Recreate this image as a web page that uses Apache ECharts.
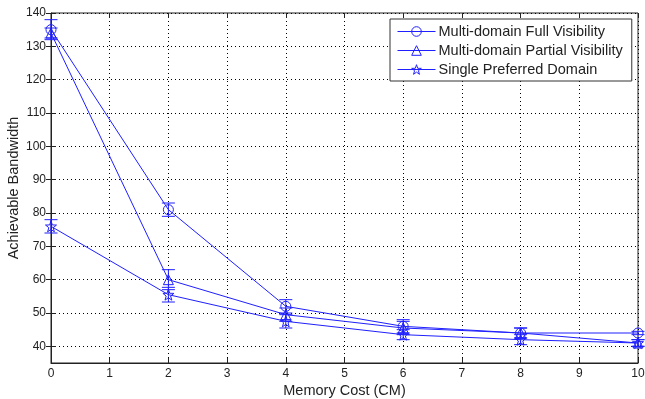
<!DOCTYPE html>
<html>
<head>
<meta charset="utf-8">
<script src="https://cdn.jsdelivr.net/npm/echarts@6/dist/echarts.min.js"></script>
<style>
  html, body { margin: 0; padding: 0; background: #fff; }
  #chart { width: 645px; height: 399px; }
</style>
</head>
<body>
<div id="chart"></div>
<script>
// memory cost values on the x axis
const memoryCost = [0, 2, 4, 6, 8, 10];
const yTicks = [40, 50, 60, 70, 80, 90, 100, 110, 120, 130, 140];

const seriesNames = [
    'Multi-domain Full Visibility',
    'Multi-domain Partial Visibility',
    'Single Preferred Domain'
];

// means
const fullVisibility = [135, 81, 52, 46, 44, 44];
const partialVisibility = [134, 60, 49.5, 45.5, 44, 41];
const singlePreferred = [76, 55.5, 47.5, 43.5, 42, 41];

// error (half length of bar)
const fullErr = [3, 2, 2, 2, 1.5, 0.5];
const partialErr = [1.5, 3, 2, 2, 1.5, 1];
const singleErr = [2, 2.2, 2, 1.5, 1.5, 1];

const BLUE = '#1f1fff';
const FONT = 'Liberation Sans, Arial, sans-serif';

const STAR = 'path://M0,-10 L2.35,-3.24 L9.51,-3.09 L3.8,1.24 L5.88,8.09 L0,4 L-5.88,8.09 L-3.8,1.24 L-9.51,-3.09 L-2.35,-3.24 Z';
const symbols = ['circle', 'triangle', STAR];

function pairs(vals) {
    return memoryCost.map((x, i) => [x, vals[i]]);
}
function errData(vals, errs) {
    return memoryCost.map((x, i) => [x, vals[i] - errs[i], vals[i] + errs[i]]);
}

// custom error bar
function renderErr(params, api) {
    const lo = api.coord([api.value(0), api.value(1)]);
    const hi = api.coord([api.value(0), api.value(2)]);
    const w = 6.5;
    const style = { stroke: BLUE, lineWidth: 1, fill: null };
    return {
        type: 'group',
        children: [
            { type: 'line', shape: { x1: lo[0], y1: lo[1], x2: hi[0], y2: hi[1] }, style: style },
            { type: 'line', shape: { x1: lo[0] - w, y1: lo[1], x2: lo[0] + w, y2: lo[1] }, style: style },
            { type: 'line', shape: { x1: hi[0] - w, y1: hi[1], x2: hi[0] + w, y2: hi[1] }, style: style }
        ]
    };
}

const means = [fullVisibility, partialVisibility, singlePreferred];
const errs = [fullErr, partialErr, singleErr];

const series = [];
means.forEach((vals, k) => {
    series.push({
        name: seriesNames[k],
        type: 'line',
        data: pairs(vals),
        symbol: symbols[k],
        symbolSize: k === 2 ? 11 : 10,
        showAllSymbol: true,
        lineStyle: { color: BLUE, width: 1 },
        itemStyle: { color: 'transparent', borderColor: BLUE, borderWidth: 1 },
        emphasis: { disabled: true },
        z: 3
    });
});
means.forEach((vals, k) => {
    series.push({
        type: 'custom',
        name: 'err' + k,
        renderItem: renderErr,
        data: errData(vals, errs[k]),
        encode: { x: 0, y: [1, 2] },
        silent: true,
        z: 2
    });
});

const chart = echarts.init(document.getElementById('chart'), null, { renderer: 'canvas' });

const tickStyle = { show: true, inside: true, length: 5, lineStyle: { color: '#222' } };

chart.setOption({
    animation: false,
    backgroundColor: '#fff',
    textStyle: { fontFamily: FONT },
    grid: {
        left: 51, right: 7, top: 13, bottom: 36,
        outerBoundsMode: 'none',
        containLabel: false,
        show: true, borderColor: '#222', borderWidth: 1
    },
    legend: {
        data: seriesNames,
        orient: 'vertical',
        left: 390,
        top: 19,
        padding: [5, 9, 4, 7],
        itemWidth: 38,
        itemHeight: 12,
        itemGap: 4,
        backgroundColor: '#fff',
        borderColor: '#333',
        borderWidth: 1,
        itemStyle: { color: 'transparent', borderColor: BLUE, borderWidth: 1 },
        lineStyle: { color: BLUE, width: 1 },
        textStyle: { fontSize: 14.5, lineHeight: 15, color: '#222', fontFamily: FONT, padding: [0, 0, 0, -2] }
    },
    xAxis: [{
        type: 'value',
        min: 0, max: 10, interval: 1,
        name: 'Memory Cost (CM)',
        nameLocation: 'middle',
        nameGap: 20,
        nameMoveOverlap: false,
        nameTextStyle: { fontSize: 14.5, color: '#222' },
        axisLine: { lineStyle: { color: '#222' } },
        axisTick: tickStyle,
        axisLabel: { fontSize: 12, color: '#222', margin: 5 },
        splitLine: { show: true, lineStyle: { color: '#000', type: [1, 3] } }
    }, {
        type: 'value', position: 'top',
        min: 0, max: 10, interval: 1,
        axisLine: { show: false },
        axisTick: tickStyle,
        axisLabel: { show: false },
        splitLine: { show: false }
    }],
    yAxis: [{
        type: 'value',
        min: 35, max: 140,
        name: 'Achievable Bandwidth',
        nameLocation: 'middle',
        nameGap: 30,
        nameMoveOverlap: false,
        nameTextStyle: { fontSize: 14.5, color: '#222' },
        axisLine: { show: true, lineStyle: { color: '#222' } },
        axisTick: Object.assign({ customValues: yTicks }, tickStyle),
        axisLabel: { fontSize: 12, color: '#222', margin: 5, customValues: yTicks },
        splitLine: { show: true, lineStyle: { color: '#000', type: [1, 3] } }
    }, {
        type: 'value', position: 'right',
        min: 35, max: 140,
        axisLine: { show: false },
        axisTick: Object.assign({ customValues: yTicks }, tickStyle),
        axisLabel: { show: false, customValues: yTicks },
        splitLine: { show: false }
    }],
    series: series
});
</script>
</body>
</html>
